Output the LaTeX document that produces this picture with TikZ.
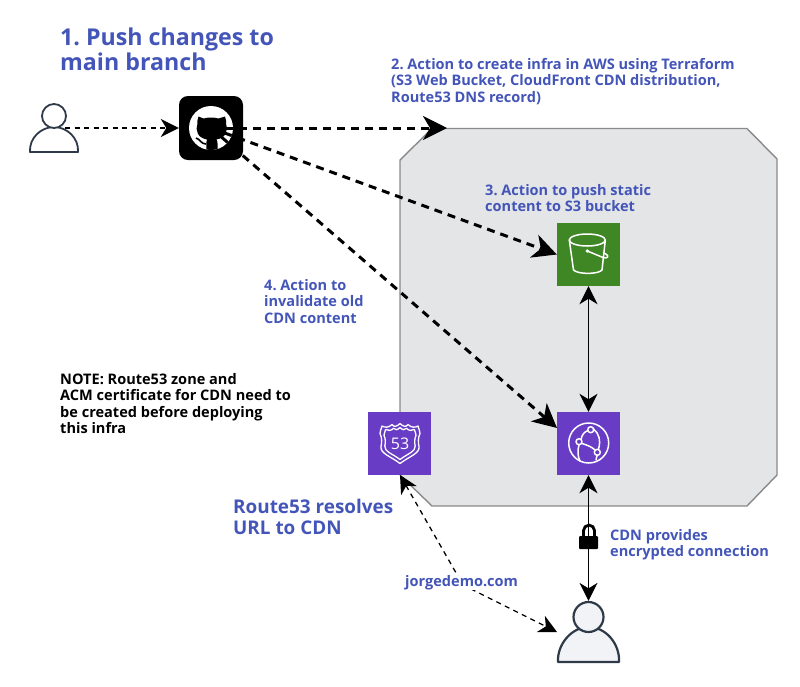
\documentclass[tikz,border=0pt]{standalone}
\usepackage{fontspec}
\setmainfont{Open Sans}
\frenchspacing
\usetikzlibrary{arrows.meta,calc}
\definecolor{txtblue}{HTML}{4355B8}
\definecolor{cloudgray}{HTML}{E4E5E7}
\definecolor{cloudedge}{HTML}{8A8A8A}
\definecolor{awspurple}{HTML}{693CC5}
\definecolor{awsgreen}{HTML}{3F8624}
\definecolor{userline}{HTML}{2E3A48}
\definecolor{userfill}{HTML}{F2F3F7}
\tikzset{
  lab/.style={anchor=west,inner sep=0pt,align=left,text=txtblue,font=\bfseries\fontsize{14.55}{16.5}\selectfont},
  labbig/.style={lab,font=\bfseries\fontsize{23.2}{25}\selectfont},
  labmid/.style={lab,font=\bfseries\fontsize{18.9}{21}\selectfont},
  awsbox/.style={minimum size=63pt,inner sep=0pt,fill=#1,draw=none},
  ico/.style={draw=white,line width=1.5pt,line join=round,line cap=round},
  bigtip/.style={-{Stealth[length=24pt,width=24pt,inset=7pt]}},
  thickdash/.style={line width=3pt,dash pattern=on 8pt off 6pt,bigtip},
  thindash/.style={line width=1.3pt,dash pattern=on 5pt off 4.5pt},
  solidlink/.style={line width=1.5pt,{Stealth[length=18pt,width=18pt,inset=5.5pt]}-{Stealth[length=18pt,width=18pt,inset=5.5pt]}},
  userstroke/.style={draw=userline,line join=round},
}
\begin{document}
\begin{tikzpicture}[x=1pt,y=-1pt]
\useasboundingbox (0,0) rectangle (800,686);
% cloud
\path[fill=cloudgray,draw=cloudedge,line width=1.4pt]
  (400,160) -- (432,128.5) -- (747,128.5) -- (777,159) -- (777,475) -- (747,506) -- (432,506) -- (400,475) -- cycle;
% boxes
\node[awsbox=awsgreen] (s3) at (588.5,254.5) {};
\node[awsbox=awspurple] (cf) at (588.5,443.5) {};
\node[awsbox=awspurple] (r53) at (399.5,443.5) {};
\node[minimum size=64pt,inner sep=0pt,fill=black,rounded corners=9pt] (gh) at (211,128) {};
% octocat
\fill[white] (gh.center) circle (22);
\begin{scope}
\clip (gh.center) circle (22);
\fill[black] (198.5,116.5) -- (203.5,118.5) .. controls (208,117.2) and (214,117.2) .. (218.5,118.5) -- (225,116.5)
 .. controls (226,119.5) and (226.5,122) .. (226,124)
 .. controls (228.5,131) and (225.5,138) .. (216.5,139.5)
 .. controls (218,142) and (217.5,145) .. (217.5,152) -- (206.5,152)
 .. controls (206.5,145) and (206,142) .. (207,139.5)
 .. controls (198,138) and (195,131) .. (197.5,124)
 .. controls (197,122) and (197.5,119.5) .. (198.5,116.5) -- cycle;
\draw[black,line width=1.6pt] (196,138) .. controls (200,139) and (201,144) .. (206,144);
\end{scope}
% S3 bucket
\draw[ico] (587.3,240) ellipse (18 and 6);
\draw[ico] (569.3,240) -- (573.5,270) .. controls (578,274.5) and (598,274.5) .. (602,270) -- (605.3,240);
\draw[ico,fill=white,line width=0.6pt] (587.3,251) circle (1.5);
\draw[ico] (587.3,251) -- (603,257.5) .. controls (608,259) and (609,256) .. (606.5,254.5) .. controls (605,253.5) and (604,253) .. (603.5,253);
% Route53 shield
\foreach \s in {1,0.8}{
\begin{scope}[shift={(400,443.5)},scale=\s]
\draw[ico,line width=1.3pt] (0,-20) .. controls (3,-17) and (6,-16) .. (8,-19) .. controls (11,-16) and (15,-15.5) .. (18,-17.5)
  .. controls (19,-14) and (20,-12) .. (20,-10) .. controls (18,-6) and (18,-1) .. (19,3)
  .. controls (20,10) and (9,13) .. (0,20)
  .. controls (-9,13) and (-20,10) .. (-19,3)
  .. controls (-18,-1) and (-18,-6) .. (-20,-10) .. controls (-20,-12) and (-19,-14) .. (-18,-17.5)
  .. controls (-15,-15.5) and (-11,-16) .. (-8,-19) .. controls (-6,-16) and (-3,-17) .. (0,-20) -- cycle;
\end{scope}}
\node[inner sep=0pt,text=white,font=\fontsize{16}{16}\selectfont] (r53num) at (400,444) {53};
% CloudFront globe
\draw[ico] (588.7,443) circle (20);
\draw[ico] (581,439.5) .. controls (582,434) and (585,431.5) .. (588,430.5);
\draw[ico] (593.5,429) .. controls (599,433) and (601,441) .. (598.5,449);
\draw[ico] (582,443.5) .. controls (587,445) and (592,447) .. (595,450);
\draw[ico] (579,445) .. controls (577,451) and (578,457) .. (580,461);
\draw[ico] (597,455.5) -- (596,460);
\draw[ico] (590.7,429.7) circle (3);
\draw[ico] (579,441.7) circle (3);
\draw[ico] (597.3,452.3) circle (3);
% users
\draw[userstroke,line width=1.8pt,fill=white] (30,152) .. controls (29,138) and (41,127) .. (54,127) .. controls (67,127) and (79,138) .. (78,152) -- cycle;
\node[circle,inner sep=0pt,minimum size=24pt,userstroke,line width=1.8pt,fill=white] (u1head) at (54,116) {};
\draw[userstroke,line width=2.2pt,fill=userfill] (558,662) .. controls (557,644) and (572,627) .. (588.5,627) .. controls (606,627) and (620,644) .. (619,662) -- cycle;
\node[circle,inner sep=0pt,minimum size=30pt,userstroke,line width=2.2pt,fill=userfill] (u2head) at (588.5,617) {};
% connectors
\coordinate (u1out) at (65,128);
\coordinate (awstip) at (447,128);
\coordinate (cftip) at (557,428);
\coordinate (bend) at (463,585);
\coordinate (u2tip) at (557,632);
\coordinate (r53tip) at (400,475);
\draw[thindash,-{Stealth[length=18pt,width=18pt,inset=5.5pt]}] (u1out) -- (gh.west);
\draw[thickdash] (gh.center) -- (awstip);
\draw[thickdash] (gh.center) -- (s3.west);
\draw[thickdash] (gh.center) -- (cftip);
\draw[solidlink] (s3.south) -- (cf.north);
\draw[solidlink] (cf.south) -- (u2head.north);
\draw[thindash,{Stealth[length=18pt,width=18pt,inset=5.5pt]}-{Stealth[length=18pt,width=18pt,inset=5.5pt]}] (r53tip) -- (bend) -- (u2tip);
% lock
\draw[black,line width=2.8pt] (583.5,537) -- (583.5,530.6) arc[start angle=180,end angle=360,radius=5.5] -- (594.5,537);
\fill[black,rounded corners=1pt] (579,536) rectangle (598,549);
% labels
\node[labbig] (t1) at (60,49) {1. Push changes to\\main branch};
\node[lab] (t2) at (391,81.5) {2. Action to create infra in AWS using Terraform\\(S3 Web Bucket, CloudFront CDN distribution,\\Route53 DNS record)};
\node[lab] (t3) at (485,198) {3. Action to push static\\content to S3 bucket};
\node[lab] (t4) at (264,301.5) {4. Action to\\invalidate old\\CDN content};
\node[lab,text=black] (t5) at (60,403.5) {NOTE: Route53 zone and\\ACM certificate for CDN need to\\be created before deploying\\this infra};
\node[labmid] (t6) at (233,516.5) {Route53 resolves\\URL to CDN};
\node[lab,fill=white] (t7) at (405,583) {jorgedemo.com};
\node[lab] (t8) at (610,544.5) {CDN provides\\encrypted connection};
\end{tikzpicture}
\end{document}
